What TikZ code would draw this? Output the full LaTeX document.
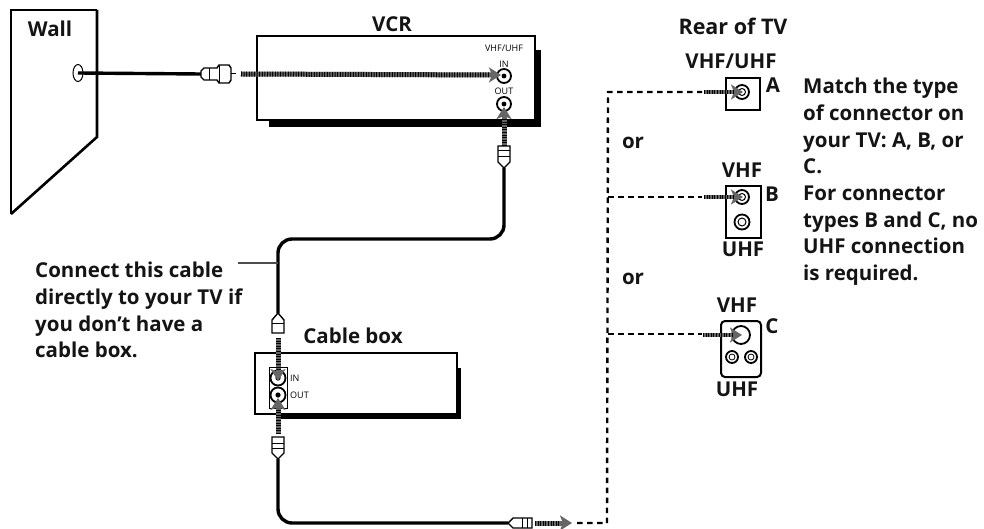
\documentclass[tikz,border=0pt]{standalone}
\usepackage{fontspec}
\setmainfont{Open Sans}
\usetikzlibrary{arrows.meta,shapes.geometric}
\tikzset{
  x=1pt,y=-1pt,
  lbl/.style={font=\bfseries\fontsize{20.5}{24}\selectfont,inner sep=0pt,text=black!92},
  para/.style={font=\bfseries\fontsize{20.5}{26.7}\selectfont,inner sep=0pt,align=left,anchor=north west,text=black!92},
  tiny/.style={font=\fontsize{9}{10}\selectfont,inner sep=0pt},
  outline/.style={draw=black,line width=2pt,fill=white},
  shadowfill/.style={fill=black},
  cable/.style={draw=black,line width=3.4pt,rounded corners=14pt},
  link/.style={draw=black,line width=2.4pt,dash pattern=on 5.5pt off 4.5pt},
  sig/.style={draw=black!60,line width=5pt,-{Stealth[length=12pt,width=15pt,inset=3pt]}},
  sigfine/.style={draw=black,line width=5pt,dash pattern=on 1pt off 1.6pt},
  jack/.style={circle,draw=black,line width=1.8pt,fill=white,inner sep=0pt,minimum size=#1},
  plugpart/.style={draw=black,line width=1.4pt,fill=white},
}
\begin{document}
\begin{tikzpicture}
\useasboundingbox (0,0) rectangle (984,529);

% Wall
\draw[black,line width=2pt,line join=miter] (97,10) -- (11,10) -- (11,214);
\draw[black,line width=2.6pt,line join=miter] (11,214) -- (97,137) -- (97,10);
\node[lbl] (wall) at (50,29) {Wall};
\node[draw=black,line width=1pt,ellipse,fill=white,minimum width=10pt,minimum height=17pt,inner sep=0pt] (hole) at (78,73) {};

% VCR
\fill[shadowfill] (269,119) rectangle (541,127);
\fill[shadowfill] (533,50) rectangle (541,127);
\node[outline,minimum width=278pt,minimum height=84pt,anchor=north west,inner sep=0pt] (vcr) at (256,35) {};
\node[lbl] (vcrlabel) at (392,24) {VCR};
\node[tiny] (vu) at (504,48) {VHF/UHF};
\node[tiny] (vin) at (504,64) {IN};
\node[tiny] (vout) at (504,91) {OUT};
\node[jack=14pt] (vcrin) at (504,76) {};
\node[jack=14pt] (vcrout) at (504,104) {};
\fill (vcrin) circle (2.4pt);
\fill (vcrout) circle (2.4pt);

% Cable box
\fill[shadowfill] (277,413) rectangle (461,419);
\fill[shadowfill] (455,368) rectangle (461,419);
\node[outline,minimum width=202pt,minimum height=61pt,anchor=north west,inner sep=0pt] (box) at (254,352) {};
\node[lbl] (boxlabel) at (353,336) {Cable box};
\node[draw=black,line width=1pt,fill=white,minimum width=18pt,minimum height=41pt,inner sep=0pt] (panel) at (278,387.5) {};
\node[jack=15pt] (boxin) at (278,378) {};
\node[jack=15pt] (boxout) at (278,395) {};
\fill (boxin) circle (2.6pt);
\fill (boxout) circle (2.6pt);
\node[tiny,anchor=west] (bi) at (290,378) {IN};
\node[tiny,anchor=west] (bo) at (290,395) {OUT};

% Plugs
\coordinate (p1a) at (201,74);
\coordinate (p1b) at (236,74);
\coordinate (p2a) at (504,146);
\coordinate (p2b) at (504,168);
\coordinate (p3a) at (278,313);
\coordinate (p3b) at (278,333);
\coordinate (p4a) at (278,437);
\coordinate (p4b) at (278,459);
\coordinate (p5a) at (508,523);
\coordinate (p5b) at (532,523);

% Cables
\draw[cable] (hole.center) -- (p1a);
\draw[cable] (p2b) -- (504,239) -- (278,239) -- (p3a);
\draw[cable] (p4b) -- (278,523) -- (p5a);
\coordinate (tick) at (278,263);
\coordinate (tickend) at (238,263);
\draw[line width=1.5pt,black!70] (tickend) -- (tick);

\draw[plugpart] (201,71) -- (204,68) -- (217,68) -- (219,65) -- (229,65) -- (231,68) -- (231,80) -- (229,83) -- (219,83) -- (217,80) -- (204,80) -- (201,77) -- cycle;
\draw[line width=1pt] (209,68) -- (209,80) (219,65) -- (219,83) (231,74) -- (p1b);
\draw[plugpart] (498,146) -- (510,146) -- (510,162) -- (504,168) -- (498,162) -- cycle;
\draw[line width=1pt] (498,151) -- (510,151) (498,157) -- (510,157);
\draw[plugpart] (278,313) -- (284,320) -- (284,333) -- (272,333) -- (272,320) -- cycle;
\draw[line width=1pt] (272,323) -- (284,323);
\draw[plugpart] (272,437) -- (284,437) -- (284,453) -- (278,459) -- (272,453) -- cycle;
\draw[line width=1pt] (272,443) -- (284,443) (272,448) -- (284,448);
\draw[plugpart] (508,523) -- (513,518) -- (532,518) -- (532,528) -- (513,528) -- cycle;
\draw[line width=1pt] (522,518) -- (522,528) (527,518) -- (527,528);

% Signal arrows
\foreach \a/\b in {{241,74}/{501,75},{504,146}/{504,107},{278,338}/{278,381},{278,434}/{278,398},{535,523}/{572,523}}{
  \draw[sig] (\a) -- (\b);
}
\draw[sigfine] (241,74) -- (490,75);
\draw[sigfine] (504,146) -- (504,118);
\draw[sigfine] (278,338) -- (278,370);
\draw[sigfine] (278,434) -- (278,408);
\draw[sigfine] (535,523) -- (561,523);

% TV connectors
\node[lbl,font=\bfseries\fontsize{21.5}{24}\selectfont] (rear) at (733,26) {Rear of TV};
\node[lbl] (vhfuhf) at (731,61) {VHF/UHF};
\node[draw=black,line width=1.8pt,fill=white,minimum width=34pt,minimum height=32pt,inner sep=0pt,anchor=north west] (tva) at (725,77) {};
\node[jack=14pt] (aj) at (742,92) {};
\node[circle,draw=black,line width=1pt,minimum size=7pt,inner sep=0pt] at (aj) {};
\node[lbl] (la) at (773,85) {A};

\node[lbl] (vhfb) at (742,170) {VHF};
\node[draw=black,line width=1.8pt,fill=white,minimum width=35pt,minimum height=52pt,inner sep=0pt,anchor=north west] (tvb) at (725,185) {};
\node[jack=14pt] (bj) at (742,197) {};
\node[circle,draw=black,line width=1pt,minimum size=7pt,inner sep=0pt] at (bj) {};
\node[jack=15pt] (bj2) at (742,222) {};
\node[circle,draw=black,line width=1pt,minimum size=8pt,inner sep=0pt] at (bj2) {};
\node[lbl] (lb) at (772,194) {B};
\node[lbl] (uhfb) at (743,249) {UHF};

\node[lbl] (vhfc) at (737,305) {VHF};
\node[draw=black,line width=2pt,fill=white,rounded corners=4pt,minimum width=40pt,minimum height=56pt,inner sep=0pt,anchor=north west] (tvc) at (720,320) {};
\node[jack=18pt] (cj) at (741,335) {};
\node[jack=12pt] (cj2) at (732,357) {};
\node[jack=12pt] (cj3) at (751,357) {};
\fill[white,draw=black,line width=.8pt] (cj2) circle (3pt) (cj3) circle (3pt);
\node[lbl] (lc) at (772,326) {C};
\node[lbl] (uhfc) at (737,389) {UHF};

% Dashed links
\coordinate (da) at (608,92);
\coordinate (db) at (608,197);
\coordinate (dc) at (608,334);
\coordinate (dd) at (607,523);
\draw[link] (577,523) -- (dd) -- (da) -- (702,92);
\draw[link] (db) -- (702,197);
\draw[link] (dc) -- (702,334);
\foreach \a/\b in {704/aj,704/bj,703/cj}{
  \draw[sig,line width=4pt] (\a,0|-\b) -- ([xshift=1pt]\b.center);
  \draw[sigfine,line width=4pt] (\a,0|-\b) -- ([xshift=-9pt]\b.center);
}

\node[lbl] (or1) at (633,143) {or};
\node[lbl] (or2) at (633,279) {or};

\node[para] (tvnote) at (803,78) {Match the type\\of connector on\\your TV: A, B, or\\C.\\For connector\\types B and C, no\\UHF connection\\is required.};
\node[para] (cablenote) at (35,262) {Connect this cable\\directly to your TV if\\you don't have a\\cable box.};
\end{tikzpicture}
\end{document}
